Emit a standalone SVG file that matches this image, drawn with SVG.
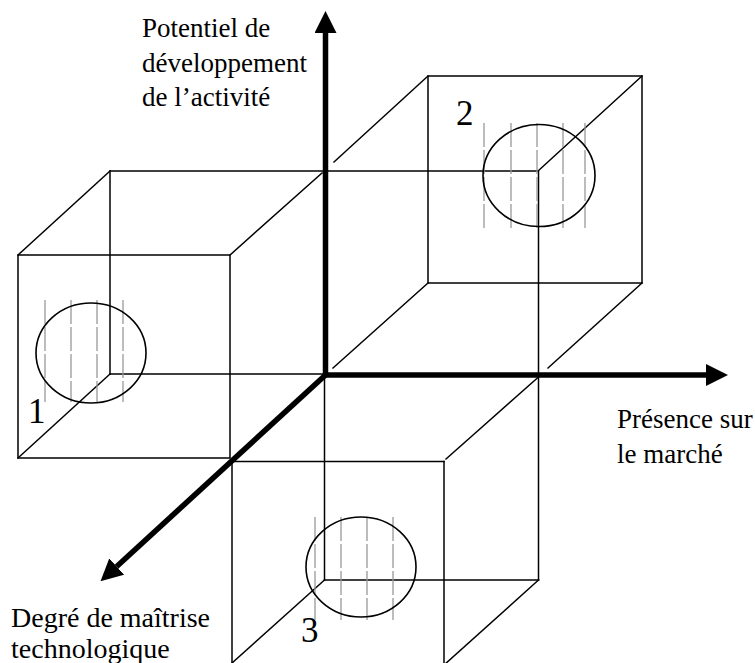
<svg xmlns="http://www.w3.org/2000/svg" width="755" height="663" viewBox="0 0 755 663">
<style>
.e{stroke:#000;stroke-width:1.5;fill:none;stroke-linecap:square}
.c{stroke:#000;stroke-width:1.6;fill:none}
.h{stroke:#999;stroke-width:1.3;stroke-dasharray:24 3;fill:none}
.ax{stroke:#000;stroke-width:5.5;fill:none}
.t{font-family:"Liberation Serif","Times New Roman",serif;font-size:27px;fill:#000}
.n{font-family:"Liberation Serif","Times New Roman",serif;font-size:35px;fill:#000}
</style>
<defs>
<marker id="ah" markerUnits="userSpaceOnUse" markerWidth="22" markerHeight="22" refX="0" refY="10" orient="auto" viewBox="0 0 20 20">
<path d="M0,0 L20,10 L0,20 z" fill="#000"/>
</marker>
</defs>
<rect width="755" height="663" fill="#fff"/>

<g id="cube1">
<line class="e" x1="110" y1="171" x2="110" y2="374"/>
<line class="e" x1="110" y1="374" x2="325" y2="374"/>
<rect class="e" x="18" y="255" width="212" height="203"/>
<line class="e" x1="18" y1="255" x2="110" y2="171"/>
<line class="e" x1="230" y1="255" x2="322" y2="173"/>
<line class="e" x1="18" y1="458" x2="110" y2="374"/>
</g>

<g id="cube2">
<line class="e" x1="110" y1="171" x2="538" y2="171"/>
<rect class="e" x="428" y="76" width="214" height="207"/>
<line class="e" x1="538.5" y1="171" x2="538.5" y2="375"/>
<line class="e" x1="428" y1="76" x2="334" y2="162"/>
<line class="e" x1="642" y1="76" x2="538" y2="171"/>
<line class="e" x1="428" y1="283" x2="333" y2="368"/>
<line class="e" x1="642" y1="283" x2="548" y2="368"/>
</g>

<g id="cube3">
<line class="e" x1="324.5" y1="375" x2="324.5" y2="580"/>
<line class="e" x1="538.5" y1="375" x2="538.5" y2="580"/>
<line class="e" x1="324.5" y1="580" x2="538.5" y2="580"/>
<line class="e" x1="232" y1="461.5" x2="444" y2="461.5"/>
<line class="e" x1="232" y1="461.5" x2="232" y2="670"/>
<line class="e" x1="444" y1="461.5" x2="444" y2="670"/>
<line class="e" x1="538.5" y1="377" x2="446" y2="459"/>
<line class="e" x1="324.5" y1="580" x2="232" y2="663"/>
<line class="e" x1="538.5" y1="580" x2="444" y2="665"/>
</g>

<g id="zone1">
<line class="h" x1="45" y1="300" x2="45" y2="402"/>
<line class="h" x1="71" y1="300" x2="71" y2="402"/>
<line class="h" x1="97" y1="300" x2="97" y2="402"/>
<line class="h" x1="123" y1="300" x2="123" y2="402"/>
<ellipse class="c" cx="91" cy="353" rx="55" ry="50"/>
<text class="n" x="28" y="423">1</text>
</g>

<g id="zone2">
<line class="h" x1="484" y1="123" x2="484" y2="228"/>
<line class="h" x1="511" y1="123" x2="511" y2="228"/>
<line class="h" x1="537" y1="123" x2="537" y2="228"/>
<line class="h" x1="563" y1="123" x2="563" y2="228"/>
<line class="h" x1="585" y1="123" x2="585" y2="228"/>
<ellipse class="c" cx="539" cy="175.5" rx="56" ry="51"/>
<text class="n" x="456" y="125">2</text>
</g>

<g id="zone3">
<line class="h" x1="315" y1="517" x2="315" y2="620"/>
<line class="h" x1="341" y1="517" x2="341" y2="620"/>
<line class="h" x1="367" y1="517" x2="367" y2="620"/>
<line class="h" x1="393" y1="517" x2="393" y2="620"/>
<ellipse class="c" cx="361" cy="567" rx="55" ry="50"/>
<text class="n" x="301" y="642">3</text>
</g>

<g id="connectors">
<line class="ax" x1="325.5" y1="375" x2="325.5" y2="33" marker-end="url(#ah)"/>
<line class="ax" x1="323" y1="375" x2="706" y2="375" marker-end="url(#ah)"/>
<line class="ax" x1="325.5" y1="375" x2="116.7" y2="566.5" marker-end="url(#ah)"/>
</g>

<g id="labels">
<text class="t" x="142" y="37">Potentiel de</text>
<text class="t" x="142" y="72">développement</text>
<text class="t" x="142" y="106">de l’activité</text>
<text class="t" x="617" y="428">Présence sur</text>
<text class="t" x="617" y="463">le marché</text>
<text class="t" x="11" y="627" style="font-size:28px">Degré de maîtrise</text>
<text class="t" x="11" y="658" style="font-size:28px">technologique</text>
</g>
</svg>
